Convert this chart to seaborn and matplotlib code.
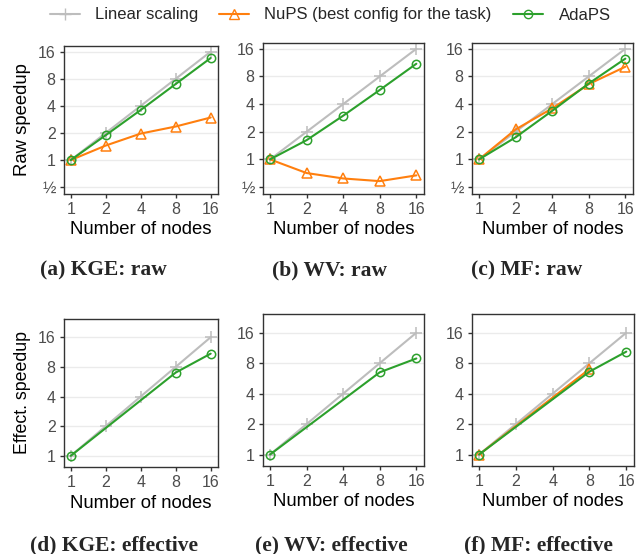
import numpy as np
import pandas as pd
import seaborn as sns
import matplotlib.pyplot as plt
from matplotlib.lines import Line2D

# values (speedup vs number of nodes)
nodes = [1, 2, 4, 8, 16]
linear = [1, 2, 4, 8, 16]

kge_raw_nups = [1, 1.45, 1.97, 2.36, 2.97]
kge_raw_adaps = [1, 1.89, 3.6, 7.0, 13.6]
wv_raw_nups = [1, 0.71, 0.62, 0.58, 0.67]
wv_raw_adaps = [1, 1.62, 2.99, 5.7, 11.0]
mf_raw_nups = [1, 2.12, 3.59, 6.6, 10.2]
mf_raw_adaps = [1, 1.74, 3.38, 6.7, 12.5]

eff_nodes = [1, 8, 16]
kge_eff_adaps = [1, 7.0, 10.9]
wv_eff_adaps = [1, 6.5, 8.9]
mf_eff_adaps = [1, 6.6, 10.4]
mf_eff_nups_nodes = [1, 8]
mf_eff_nups = [1, 7.0]

captions = ["(a) KGE: raw", "(b) WV: raw", "(c) MF: raw",
            "(d) KGE: effective", "(e) WV: effective", "(f) MF: effective"]

c_lin = "#bdbdbd"
c_nups = "#ff7f0e"
c_ada = "#2ca02c"

sns.set_theme(style="white")
plt.rcParams["font.family"] = ["Liberation Sans", "DejaVu Sans"]

fig = plt.figure(figsize=(6.44, 5.54), dpi=100)
W, H = 644, 554


def add_ax(x0, x1, y0, y1):
    return fig.add_axes([x0 / W, 1 - y1 / H, (x1 - x0) / W, (y1 - y0) / H])


def series(ax, x, y, color, marker, ms):
    df = pd.DataFrame({"x": x, "y": y})
    sns.lineplot(data=df, x="x", y="y", ax=ax, color=color, marker=marker,
                 markersize=ms, mfc="none", mec=color, mew=1.1, lw=1.5,
                 estimator=None, legend=False)


panels = [
    (add_ax(64, 218, 46, 194), [(nodes, kge_raw_nups)], [(nodes, kge_raw_adaps)], True),
    (add_ax(263, 424, 43, 194), [(nodes, wv_raw_nups)], [(nodes, wv_raw_adaps)], True),
    (add_ax(472, 633, 43, 194), [(nodes, mf_raw_nups)], [(nodes, mf_raw_adaps)], True),
    (add_ax(64, 218, 319, 467), [], [(eff_nodes, kge_eff_adaps)], False),
    (add_ax(263, 424, 314, 466), [], [(eff_nodes, wv_eff_adaps)], False),
    (add_ax(472, 634, 314, 466), [(mf_eff_nups_nodes, mf_eff_nups)], [(eff_nodes, mf_eff_adaps)], False),
]

for i, (ax, nups, ada, raw) in enumerate(panels):
    ax.set_xscale("log", base=2)
    ax.set_yscale("log", base=2)
    if raw:
        yt = [0.5, 1, 2, 4, 8, 16]
        ylab = ["½", "1", "2", "4", "8", "16"]
        ax.set_ylim(0.42, 18.5)
    else:
        yt = [1, 2, 4, 8, 16]
        ylab = ["1", "2", "4", "8", "16"]
        ax.set_ylim(0.77, 24.5)
    for v in yt:
        ax.axhline(v, color="#ebebeb", lw=1.0, zorder=0)
    series(ax, nodes, linear, c_lin, "+", 9)
    for x, y in nups:
        series(ax, x, y, c_nups, "^", 7)
    for x, y in ada:
        series(ax, x, y, c_ada, "o", 6)
    ax.set_xlim(0.875, 18.5)
    ax.set_xticks(nodes)
    ax.set_xticklabels([str(n) for n in nodes])
    ax.set_yticks(yt)
    ax.set_yticklabels(ylab)
    ax.minorticks_off()
    ax.tick_params(axis="both", which="major", length=3, width=1, color="#333333",
                   labelsize=11.5, labelcolor="#4d4d4d", pad=3, left=True, bottom=True)
    for s in ax.spines.values():
        s.set_color("#333333")
        s.set_linewidth(1.0)
    ax.set_xlabel("Number of nodes", fontsize=13.3, labelpad=3, color="black")
    ax.set_ylabel("")

panels[0][0].set_ylabel("Raw speedup", fontsize=13.3, color="black", labelpad=5)
panels[3][0].set_ylabel("Effect. speedup", fontsize=12.8, color="black", labelpad=5)

cap_pos = [(103, 270), (329, 270), (527, 270), (114, 545), (331, 545), (538, 545)]
for (cx, cy), txt in zip(cap_pos, captions):
    fig.text(cx / W, 1 - cy / H, txt, ha="center", va="center", fontsize=15.5,
             fontweight="bold", family=["Liberation Serif", "DejaVu Serif"])

handles = [
    Line2D([], [], color=c_lin, marker="+", ms=9, lw=1.5, mec=c_lin),
    Line2D([], [], color=c_nups, marker="^", ms=7, mfc="none", mec=c_nups, lw=1.5),
    Line2D([], [], color=c_ada, marker="o", ms=6, mfc="none", mec=c_ada, lw=1.5),
]
fig.legend(handles, ["Linear scaling", "NuPS (best config for the task)", "AdaPS"],
           loc="center", bbox_to_anchor=(330 / W, 1 - 15 / H), ncol=3, frameon=False,
           fontsize=12, handlelength=1.8, columnspacing=1.3, handletextpad=0.9)

fig.savefig("out.png", dpi=100)
